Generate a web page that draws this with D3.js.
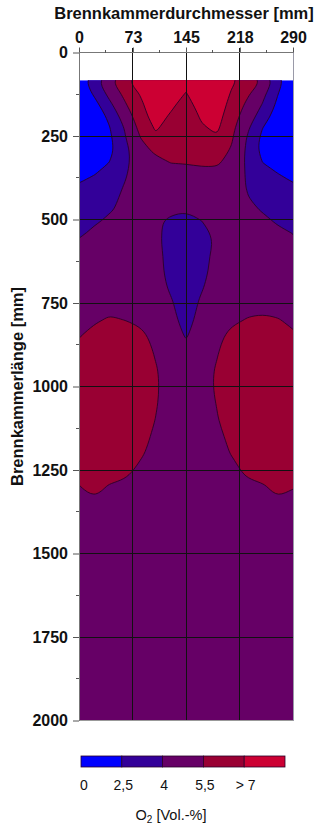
<!DOCTYPE html>
<html>
<head>
<meta charset="utf-8">
<script src="https://cdn.jsdelivr.net/npm/d3@7"></script>
<style>
  body { margin: 0; background: #fff; }
  svg { display: block; font-family: "Liberation Sans", Arial, sans-serif; }
</style>
</head>
<body>
<div id="chart"></div>
<script>
// measuring grid: diameter positions [mm] and length positions [mm]
const xCols = [0, 20.7, 41.4, 62.1, 82.9, 103.6, 124.3, 145, 165.7, 186.4, 207.1, 227.9, 248.6, 269.3, 290];
const yRows = [83, 120, 155, 190, 225, 260, 295, 330, 365, 400, 435, 470, 505, 540, 575, 610,
  650, 700, 750, 800, 850, 900, 950, 1000, 1050, 1100, 1150, 1200, 1250, 1300, 1350, 1400, 1500, 2000];

// O2 concentration [Vol.-%], one row per length position
const o2 = [
  [1.7, 3.5, 5.3, 6.7, 8.1, 8.5, 8.5, 8.5, 8.5, 8.5, 7.3, 6.3, 5.45, 3.3, 1.0],
  [1.2, 2.8, 4.5, 5.9, 7.15, 8.5, 8.3, 6.95, 8.5, 8.3, 6.85, 5.8, 4.5, 2.6, 1.1],
  [0.8, 2.0, 3.7, 5.35, 6.65, 8.1, 7.4, 6.3, 7.8, 7.9, 6.5, 5.25, 3.95, 2.2, 0.8],
  [0.8, 1.35, 2.9, 4.7, 6.3, 7.75, 6.8, 5.8, 7.25, 7.6, 6.15, 4.8, 3.35, 1.75, 0.8],
  [0.8, 0.9, 2.45, 4.1, 5.9, 7.15, 6.6, 6.0, 6.8, 7.3, 5.85, 4.25, 2.55, 1.0, 0.8],
  [0.8, 0.8, 2.2, 3.85, 5.4, 6.75, 6.4, 6.2, 6.4, 6.8, 5.6, 3.9, 2.1, 0.8, 0.8],
  [0.8, 0.8, 2.1, 3.65, 4.8, 5.8, 6.0, 5.9, 6.0, 6.1, 5.35, 3.75, 2.05, 0.8, 0.8],
  [0.8, 1.05, 2.55, 3.8, 4.45, 4.95, 5.52, 5.55, 5.7, 5.75, 4.9, 3.8, 2.52, 1.0, 0.8],
  [1.0, 2.45, 3.2, 3.9, 4.5, 4.9, 5.1, 5.1, 5.1, 5.0, 4.6, 3.9, 3.3, 2.65, 1.35],
  [3.0, 3.3, 3.6, 4.05, 4.5, 4.8, 4.95, 5.0, 4.95, 4.85, 4.45, 3.95, 3.5, 3.25, 3.0],
  [3.1, 3.4, 3.7, 4.2, 4.55, 4.75, 4.8, 4.75, 4.8, 4.8, 4.5, 4.05, 3.6, 3.3, 3.1],
  [3.2, 3.45, 3.85, 4.35, 4.6, 4.55, 4.35, 4.15, 4.35, 4.6, 4.6, 4.45, 3.85, 3.5, 3.2],
  [3.4, 3.75, 4.3, 4.6, 4.65, 4.3, 3.7, 3.3, 3.98, 4.4, 4.7, 4.7, 4.4, 3.8, 3.4],
  [3.6, 4.4, 4.7, 4.8, 4.75, 4.4, 3.4, 3.0, 3.3, 4.5, 4.85, 4.9, 4.8, 4.35, 3.95],
  [4.5, 4.65, 4.8, 4.85, 4.8, 4.4, 3.4, 2.9, 3.2, 4.3, 4.8, 4.9, 4.9, 4.8, 4.5],
  [4.7, 4.75, 4.85, 4.9, 4.85, 4.5, 3.5, 3.0, 3.4, 4.5, 4.85, 4.9, 4.9, 4.85, 4.75],
  [4.75, 4.8, 4.9, 4.95, 4.85, 4.5, 3.55, 3.1, 3.5, 4.55, 4.9, 4.95, 4.95, 4.9, 4.8],
  [4.8, 4.85, 4.95, 5.0, 4.9, 4.55, 3.8, 3.2, 3.85, 4.6, 4.95, 5.0, 5.0, 4.95, 4.85],
  [4.9, 5.1, 5.2, 5.2, 5.05, 4.8, 4.15, 3.35, 4.2, 4.8, 5.05, 5.2, 5.2, 5.1, 4.9],
  [5.2, 5.35, 5.6, 5.48, 5.2, 4.9, 4.4, 3.5, 4.45, 4.95, 5.25, 5.55, 5.65, 5.55, 5.3],
  [5.45, 5.9, 6.2, 6.2, 5.9, 5.1, 4.7, 3.9, 4.7, 5.15, 5.9, 6.2, 6.3, 6.1, 5.65],
  [5.9, 6.25, 6.5, 6.5, 6.2, 5.4, 4.9, 4.6, 4.9, 5.4, 6.2, 6.5, 6.55, 6.4, 6.0],
  [6.1, 6.5, 6.7, 6.7, 6.4, 5.6, 5.0, 4.75, 5.0, 5.6, 6.3, 6.6, 6.7, 6.55, 6.2],
  [6.2, 6.55, 6.75, 6.75, 6.45, 5.65, 5.0, 4.75, 5.0, 5.65, 6.35, 6.65, 6.75, 6.6, 6.3],
  [6.2, 6.55, 6.75, 6.75, 6.4, 5.6, 5.0, 4.75, 5.0, 5.53, 6.3, 6.65, 6.75, 6.6, 6.3],
  [6.15, 6.5, 6.7, 6.65, 6.35, 5.48, 4.95, 4.75, 4.95, 5.4, 6.2, 6.6, 6.7, 6.55, 6.25],
  [6.1, 6.45, 6.6, 6.5, 6.1, 5.2, 4.9, 4.7, 4.9, 5.05, 5.95, 6.45, 6.65, 6.5, 6.2],
  [6.0, 6.35, 6.45, 6.3, 5.75, 4.95, 4.8, 4.7, 4.8, 4.9, 5.6, 6.3, 6.5, 6.4, 6.1],
  [5.9, 6.15, 6.2, 6.0, 5.15, 4.9, 4.75, 4.7, 4.75, 4.85, 5.0, 5.9, 6.25, 6.3, 6.0],
  [5.45, 6.0, 5.35, 5.1, 4.85, 4.75, 4.7, 4.65, 4.7, 4.75, 4.85, 5.1, 5.3, 5.95, 5.55],
  [5.1, 5.25, 5.1, 4.95, 4.8, 4.7, 4.65, 4.65, 4.65, 4.7, 4.8, 4.95, 5.1, 5.25, 5.1],
  [4.9, 4.95, 4.9, 4.85, 4.75, 4.7, 4.65, 4.6, 4.65, 4.7, 4.75, 4.85, 4.9, 4.95, 4.9],
  [4.8, 4.8, 4.8, 4.75, 4.7, 4.7, 4.65, 4.65, 4.65, 4.7, 4.7, 4.75, 4.8, 4.8, 4.8],
  [4.7, 4.7, 4.7, 4.7, 4.7, 4.7, 4.7, 4.7, 4.7, 4.7, 4.7, 4.7, 4.7, 4.7, 4.7]
];

const levels = [2.5, 4, 5.5, 7];
const colors = ['#0000ff', '#330099', '#660066', '#990033', '#cc0033'];
const legendLabels = ['0', '2,5', '4', '5,5', '> 7'];
const xTicks = [0, 73, 145, 218, 290];
const xMinor = [36.25, 108.75, 181.25, 253.75];
const yTicks = [0, 250, 500, 750, 1000, 1250, 1500, 1750, 2000];
const yMinor = [125, 375, 625, 875, 1125, 1375, 1625, 1875];

const W = 322, H = 827;
const x = d3.scaleLinear().domain([0, 290]).range([79, 293]);
const y = d3.scaleLinear().domain([0, 2000]).range([52.5, 720.5]);

// grid index -> mm
const colIdx = d3.scaleLinear().domain(d3.range(xCols.length)).range(xCols).clamp(true);
const rowIdx = d3.scaleLinear().domain(d3.range(yRows.length)).range(yRows).clamp(true);

const svg = d3.select('#chart').append('svg')
  .attr('width', W)
  .attr('height', H);

const top0 = y(yRows[0]);
svg.append('defs').append('clipPath').attr('id', 'dataClip')
  .append('rect')
  .attr('x', x(0)).attr('y', top0)
  .attr('width', x(290) - x(0)).attr('height', y(2000) - top0);

const nx = xCols.length, ny = yRows.length;
const bands = d3.contours().size([nx, ny]).thresholds(levels)(o2.flat());

// contour coords: sample i sits at i + 0.5; frame points pushed outside the clip
const pad = 8;
function toPx(p) {
  let px = x(colIdx(p[0] - 0.5)), py = y(rowIdx(p[1] - 0.5));
  if (p[0] <= 0) px = x(0) - pad;
  if (p[0] >= nx) px = x(290) + pad;
  if (p[1] <= 0) py = top0 - pad;
  if (p[1] >= ny) py = y(2000) + pad;
  return [px, py];
}
const smooth = d3.line().curve(d3.curveBasisClosed);

function ringPath(ring) {
  const pts = [];
  ring.forEach(p => {
    const q = toPx(p);
    const last = pts[pts.length - 1];
    if (!last || Math.abs(last[0] - q[0]) > 0.05 || Math.abs(last[1] - q[1]) > 0.05) pts.push(q);
  });
  const a = pts[0], b = pts[pts.length - 1];
  if (pts.length > 1 && Math.abs(a[0] - b[0]) < 0.05 && Math.abs(a[1] - b[1]) < 0.05) pts.pop();
  return pts.length > 2 ? smooth(pts) : '';
}
const bandPath = mp => mp.coordinates.map(poly => poly.map(ringPath).join('')).join('');

const plot = svg.append('g').attr('clip-path', 'url(#dataClip)');

plot.append('rect')
  .attr('x', x(0)).attr('y', top0)
  .attr('width', x(290) - x(0)).attr('height', y(2000) - top0)
  .attr('fill', colors[0]);

bands.forEach((b, i) => {
  plot.append('path')
    .attr('d', bandPath(b))
    .attr('fill', colors[i + 1])
    .attr('fill-rule', 'evenodd')
    .attr('stroke', '#2a0028')
    .attr('stroke-width', 0.9);
});

// grid
const grid = svg.append('g').attr('shape-rendering', 'crispEdges');
grid.selectAll('.vg').data(xTicks.slice(1, -1)).enter().append('line')
  .attr('x1', d => x(d)).attr('x2', d => x(d))
  .attr('y1', y(0) - 5).attr('y2', y(2000))
  .attr('stroke', '#111').attr('stroke-width', 1);
grid.selectAll('.hg').data(yTicks.slice(1, -1)).enter().append('line')
  .attr('x1', x(0)).attr('x2', x(290))
  .attr('y1', d => y(d)).attr('y2', d => y(d))
  .attr('stroke', '#111').attr('stroke-width', 1);

// frame
grid.append('line').attr('x1', x(290)).attr('x2', x(290)).attr('y1', y(0) - 4).attr('y2', y(2000))
  .attr('stroke', '#9a9aa8');
grid.append('line').attr('x1', x(0)).attr('x2', x(290)).attr('y1', y(2000)).attr('y2', y(2000))
  .attr('stroke', '#999');
grid.append('line').attr('x1', x(0)).attr('x2', x(0)).attr('y1', y(0)).attr('y2', y(2000))
  .attr('stroke', '#777');

// top axis
const topAxis = svg.append('g').attr('transform', `translate(0,${y(0)})`);
topAxis.call(d3.axisTop(x).tickValues(xTicks).tickSize(5).tickFormat(d3.format('d')));
topAxis.select('.domain').remove();
topAxis.append('line').attr('x1', x(0)).attr('x2', x(290)).attr('stroke', '#777').attr('shape-rendering', 'crispEdges');
topAxis.selectAll('.tick line').attr('stroke', '#555');
topAxis.selectAll('.tick text').attr('y', -9.5)
  .style('font-size', '16px').style('font-weight', 'bold').attr('fill', '#111')
  .style('font-family', '"Liberation Sans", Arial, sans-serif');
topAxis.selectAll('.minor').data(xMinor).enter().append('line')
  .attr('x1', d => x(d)).attr('x2', d => x(d)).attr('y1', -3).attr('y2', 0)
  .attr('stroke', '#555').attr('shape-rendering', 'crispEdges');

// left axis
const leftAxis = svg.append('g').attr('transform', `translate(${x(0)},0)`);
leftAxis.call(d3.axisLeft(y).tickValues(yTicks).tickSize(6).tickFormat(d3.format('d')));
leftAxis.select('.domain').remove();
leftAxis.selectAll('.tick line').attr('stroke', '#555');
leftAxis.selectAll('.tick text').attr('x', -11)
  .style('font-size', '16px').style('font-weight', 'bold').attr('fill', '#111')
  .style('font-family', '"Liberation Sans", Arial, sans-serif');
leftAxis.selectAll('.minor').data(yMinor).enter().append('line')
  .attr('x1', -3).attr('x2', 0).attr('y1', d => y(d)).attr('y2', d => y(d))
  .attr('stroke', '#555').attr('shape-rendering', 'crispEdges');

// titles
svg.append('text')
  .attr('x', 184).attr('y', 19)
  .attr('text-anchor', 'middle')
  .style('font-size', '16.5px').style('font-weight', 'bold').attr('fill', '#111')
  .text('Brennkammerdurchmesser [mm]');

svg.append('text')
  .attr('transform', `translate(23,${(y(0) + y(2000)) / 2}) rotate(-90)`)
  .attr('text-anchor', 'middle')
  .style('font-size', '16.5px').style('font-weight', 'bold').attr('fill', '#111')
  .text('Brennkammerlänge [mm]');

// legend
const lx = d3.scaleLinear().domain([0, colors.length]).range([81, 285]);
const legend = svg.append('g');
legend.selectAll('rect').data(colors).enter().append('rect')
  .attr('x', (d, i) => lx(i)).attr('y', 756)
  .attr('width', lx(1) - lx(0)).attr('height', 11)
  .attr('fill', d => d)
  .attr('stroke', '#2a0028').attr('stroke-width', 0.8);
legend.selectAll('.lab').data(legendLabels).enter().append('text')
  .attr('x', (d, i) => i === 0 ? lx(0) + 3 : lx(i) + 1.5)
  .attr('y', 790)
  .attr('text-anchor', 'middle')
  .style('font-size', '14px').attr('fill', '#111')
  .text(d => d);

const unit = legend.append('text')
  .attr('x', 171).attr('y', 820)
  .attr('text-anchor', 'middle')
  .style('font-size', '14.5px').attr('fill', '#111');
unit.append('tspan').text('O');
unit.append('tspan').attr('dy', 3).style('font-size', '10px').text('2');
unit.append('tspan').attr('dy', -3).text(' [Vol.-%]');
</script>
</body>
</html>
